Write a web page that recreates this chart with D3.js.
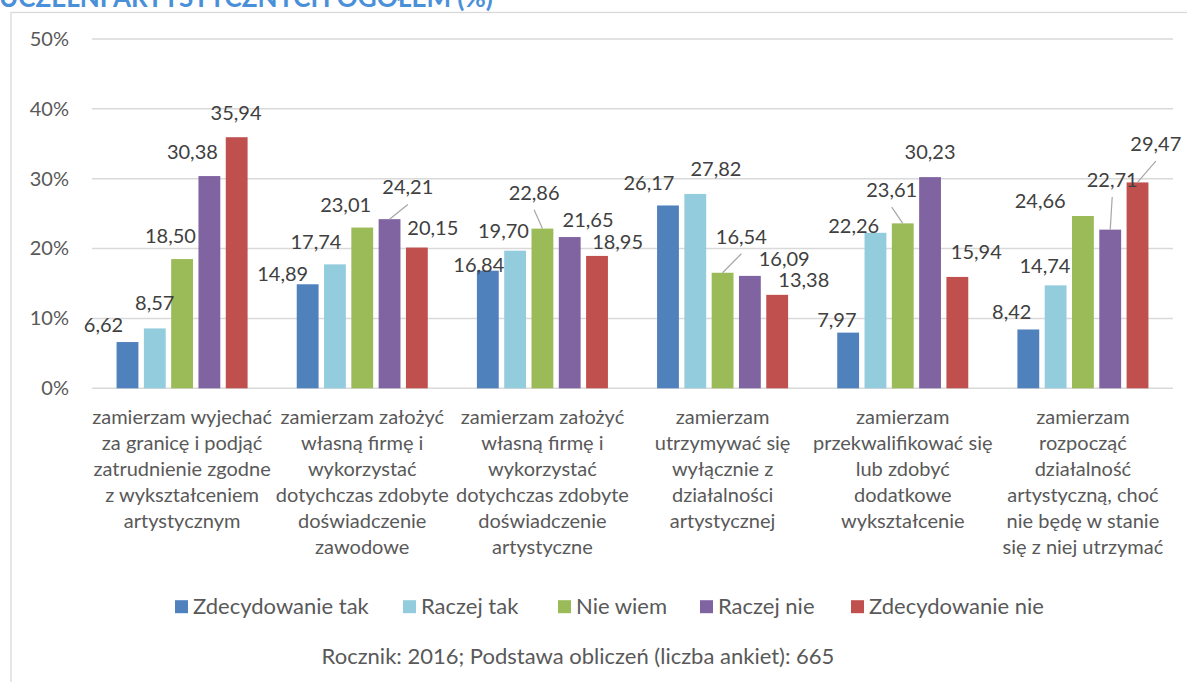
<!DOCTYPE html>
<html>
<head>
<meta charset="utf-8">
<script src="https://cdn.jsdelivr.net/npm/d3@7"></script>
<style>
  html, body { margin: 0; padding: 0; background: #fff; }
  svg { display: block; font-family: Lato, "Open Sans", sans-serif; }
</style>
</head>
<body>
<div id="chart"></div>
<script>
// categories (wrapped the way the original axis wraps them)
var categories = [
  ["zamierzam wyjechać", "za granicę i podjąć", "zatrudnienie zgodne", "z wykształceniem", "artystycznym"],
  ["zamierzam założyć", "własną firmę i", "wykorzystać", "dotychczas zdobyte", "doświadczenie", "zawodowe"],
  ["zamierzam założyć", "własną firmę i", "wykorzystać", "dotychczas zdobyte", "doświadczenie", "artystyczne"],
  ["zamierzam", "utrzymywać się", "wyłącznie z", "działalności", "artystycznej"],
  ["zamierzam", "przekwalifikować się", "lub zdobyć", "dodatkowe", "wykształcenie"],
  ["zamierzam", "rozpocząć", "działalność", "artystyczną, choć", "nie będę w stanie", "się z niej utrzymać"]
];

var seriesNames = ["Zdecydowanie tak", "Raczej tak", "Nie wiem", "Raczej nie", "Zdecydowanie nie"];

// values in percent, one array per series
var zdecydowanieTak = [6.62, 14.89, 16.84, 26.17, 7.97, 8.42];
var raczejTak       = [8.57, 17.74, 19.70, 27.82, 22.26, 14.74];
var nieWiem         = [18.50, 23.01, 22.86, 16.54, 23.61, 24.66];
var raczejNie       = [30.38, 24.21, 21.65, 16.09, 30.23, 22.71];
var zdecydowanieNie = [35.94, 20.15, 18.95, 13.38, 15.94, 29.47];

var yTicks = [0, 0.1, 0.2, 0.3, 0.4, 0.5];

var colors = ["#4F81BD", "#93CDDD", "#9BBB59", "#8064A2", "#C0504D"];

// label nudges (dx, dy from bar top-centre, leader line) - Excel placed them by hand
var labelNudge = [
  [[-24, -17], [0, -25], [-11.6, -23], [-17, -24.3], [-0.6, -24.3]],
  [[-25, -10], [-19, -22.6], [-16.6, -22.5], [18.3, -31.7, 1], [16, -19.8]],
  [[-9, -6], [-11.7, -20], [-8.3, -35.8, 1], [18.3, -17], [20.6, -14]],
  [[-19, -22.7], [20.7, -24.8], [18.7, -36, 1], [34.3, -16.8], [26.6, -14.8]],
  [[-11.3, -12.6], [-21.7, -6.7], [-11, -33.3, 1], [0, -25.3], [19, -24.6]],
  [[-16.6, -17.7], [-10.7, -19.6], [-42.7, -15], [2, -49.6, 1], [18.3, -38.3, 1]]
];

function init() {
  var width = 1187, height = 682;
  var seriesValues = [zdecydowanieTak, raczejTak, nieWiem, raczejNie, zdecydowanieNie];

  var svg = d3.select("#chart").append("svg")
      .attr("width", width)
      .attr("height", height);

  // chart frame (cut by the screenshot on right and bottom)
  svg.append("rect")
      .attr("x", 11).attr("y", 12.5)
      .attr("width", width + 20).attr("height", height + 20)
      .attr("fill", "none")
      .attr("stroke", "#d9d9d9")
      .attr("stroke-width", 1.3);

  // title, mostly above the visible area (as in the source screenshot)
  svg.append("text")
      .attr("x", -1).attr("y", 7)
      .attr("fill", "#4a90d9")
      .attr("font-weight", "bold")
      .attr("font-size", 26)
      .text("UCZELNI ARTYSTYCZNYCH OGÓŁEM (%)");

  var idx = d3.range(categories.length);
  var x0 = d3.scaleBand(idx, [92, 1173]);
  var x1 = d3.scaleBand(d3.range(seriesNames.length), [0, x0.bandwidth()])
      .paddingInner(0.2).paddingOuter(0.9);
  var y = d3.scaleLinear([0, 0.5], [388.3, 39]);

  // gridlines
  svg.append("g")
    .selectAll("line")
    .data(yTicks)
    .join("line")
      .attr("x1", 92).attr("x2", 1173)
      .attr("y1", d => y(d)).attr("y2", d => y(d))
      .attr("stroke", "#d9d9d9")
      .attr("stroke-width", 1.5);

  // y axis labels
  var yAxis = d3.axisLeft(y).tickValues(yTicks).tickFormat(d3.format(".0%")).tickSize(0).tickPadding(0);
  svg.append("g")
      .attr("transform", "translate(69,0)")
      .call(yAxis)
      .call(g => g.select(".domain").remove())
      .call(g => g.selectAll("text")
          .attr("fill", "#595959")
          .attr("font-size", 20)
          .attr("font-family", "Lato, sans-serif"));

  // bars
  var groups = svg.append("g")
    .selectAll("g")
    .data(idx)
    .join("g")
      .attr("transform", i => `translate(${x0(i)},0)`);

  groups.selectAll("rect")
    .data(i => seriesValues.map((s, k) => ({i: i, k: k, v: s[i]})))
    .join("rect")
      .attr("x", d => x1(d.k))
      .attr("width", x1.bandwidth())
      .attr("y", d => y(d.v / 100))
      .attr("height", d => y(0) - y(d.v / 100))
      .attr("fill", d => colors[d.k]);

  // leader lines and value labels
  var labels = groups.selectAll("g.lbl")
    .data(i => seriesValues.map((s, k) => ({i: i, k: k, v: s[i]})))
    .join("g")
      .attr("class", "lbl");

  labels.filter(d => labelNudge[d.i][d.k][2])
    .append("line")
      .attr("x1", d => x1(d.k) + x1.bandwidth() / 2 + labelNudge[d.i][d.k][0])
      .attr("y1", d => y(d.v / 100) + labelNudge[d.i][d.k][1] + 17)
      .attr("x2", d => x1(d.k) + x1.bandwidth() / 2)
      .attr("y2", d => y(d.v / 100))
      .attr("stroke", "#a6a6a6")
      .attr("stroke-width", 1.2);

  labels.append("text")
      .attr("x", d => x1(d.k) + x1.bandwidth() / 2 + labelNudge[d.i][d.k][0])
      .attr("y", d => y(d.v / 100) + labelNudge[d.i][d.k][1])
      .attr("dy", "0.35em")
      .attr("text-anchor", "middle")
      .attr("font-size", 20)
      .attr("fill", "#404040")
      .text(d => d.v.toFixed(2).replace(".", ","));

  // category labels
  svg.append("g")
    .selectAll("text")
    .data(idx)
    .join("text")
      .attr("text-anchor", "middle")
      .attr("font-size", 20)
      .attr("fill", "#595959")
      .attr("transform", i => `translate(${x0(i) + x0.bandwidth() / 2},416.7)`)
    .selectAll("tspan")
    .data(i => categories[i])
    .join("tspan")
      .attr("x", 0)
      .attr("y", (d, j) => j * 26)
      .attr("dy", "0.35em")
      .text(d => d);

  // legend
  var legendX = [175, 403, 558, 700, 851];
  var legend = svg.append("g")
    .selectAll("g")
    .data(seriesNames)
    .join("g")
      .attr("transform", (d, k) => `translate(${legendX[k]},606.7)`);
  legend.append("rect")
      .attr("x", 0).attr("y", -6.5)
      .attr("width", 13).attr("height", 13)
      .attr("fill", (d, k) => colors[k]);
  legend.append("text")
      .attr("x", 18).attr("dy", "0.35em")
      .attr("font-size", 22)
      .attr("fill", "#595959")
      .text(d => d);

  // footnote
  svg.append("text")
      .attr("x", 578).attr("y", 656.7)
      .attr("dy", "0.35em")
      .attr("text-anchor", "middle")
      .attr("font-size", 22)
      .attr("fill", "#595959")
      .text("Rocznik: 2016; Podstawa obliczeń (liczba ankiet): 665");
}

window.onload = init;
</script>
</body>
</html>
